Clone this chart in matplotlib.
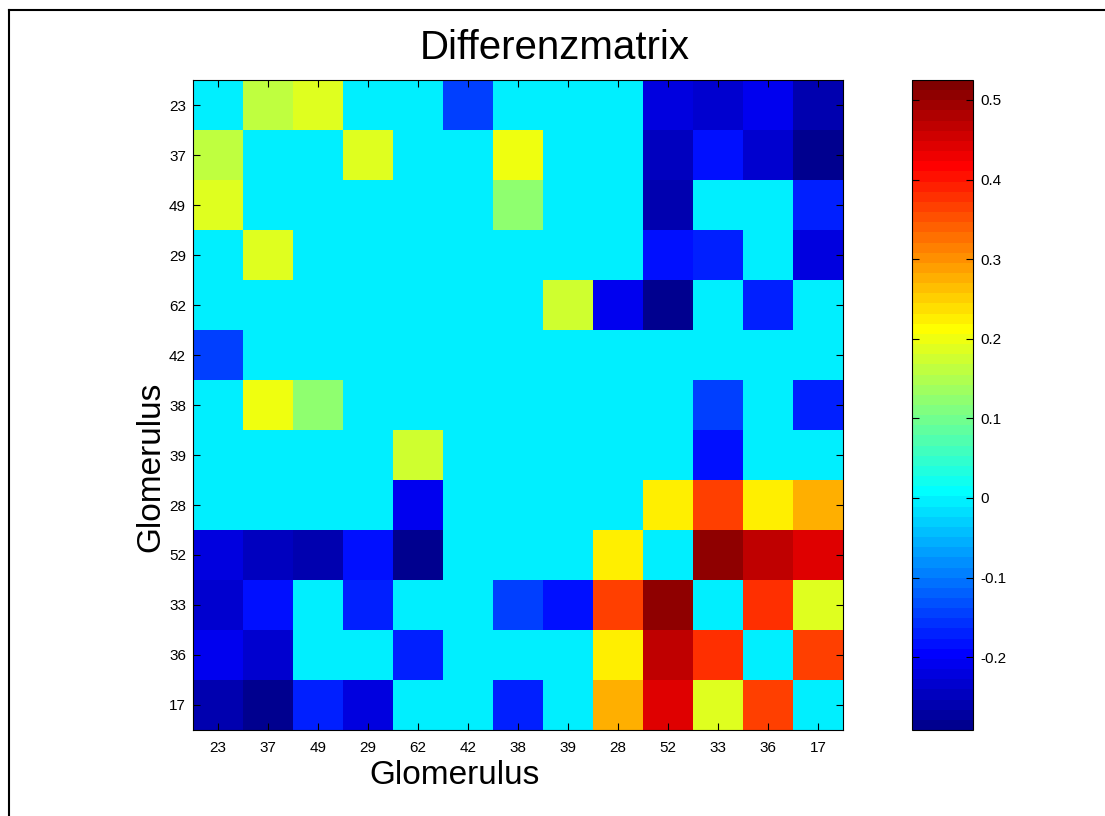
import numpy as np
import matplotlib
matplotlib.use("Agg")
import matplotlib.pyplot as plt
from matplotlib.lines import Line2D
from matplotlib.colors import ListedColormap

plt.rcParams['font.family'] = ['Liberation Sans', 'DejaVu Sans']

# glomerulus labels (same order on both axes)
labels = ["23", "37", "49", "29", "62", "42", "38", "39", "28", "52", "33", "36", "17"]

# difference matrix (rows top to bottom)
diff = np.array([
    [0.000, 0.162, 0.187, 0.000, 0.000, -0.144, 0.000, 0.000, 0.000, -0.221, -0.234, -0.208, -0.259],
    [0.162, 0.000, 0.000, 0.187, 0.000, 0.000, 0.200, 0.000, 0.000, -0.246, -0.183, -0.234, -0.285],
    [0.187, 0.000, 0.000, 0.000, 0.000, 0.000, 0.123, 0.000, 0.000, -0.259, 0.000, 0.000, -0.170],
    [0.000, 0.187, 0.000, 0.000, 0.000, 0.000, 0.000, 0.000, 0.000, -0.183, -0.170, 0.000, -0.221],
    [0.000, 0.000, 0.000, 0.000, 0.000, 0.000, 0.000, 0.174, -0.208, -0.285, 0.000, -0.170, 0.000],
    [-0.144, 0.000, 0.000, 0.000, 0.000, 0.000, 0.000, 0.000, 0.000, 0.000, 0.000, 0.000, 0.000],
    [0.000, 0.200, 0.123, 0.000, 0.000, 0.000, 0.000, 0.000, 0.000, 0.000, -0.144, 0.000, -0.170],
    [0.000, 0.000, 0.000, 0.000, 0.174, 0.000, 0.000, 0.000, 0.000, 0.000, -0.183, 0.000, 0.000],
    [0.000, 0.000, 0.000, 0.000, -0.208, 0.000, 0.000, 0.000, 0.000, 0.225, 0.366, 0.225, 0.276],
    [-0.221, -0.246, -0.259, -0.183, -0.285, 0.000, 0.000, 0.000, 0.225, 0.000, 0.506, 0.468, 0.442],
    [-0.234, -0.183, 0.000, -0.170, 0.000, 0.000, -0.144, -0.183, 0.366, 0.506, 0.000, 0.378, 0.187],
    [-0.208, -0.234, 0.000, 0.000, -0.170, 0.000, 0.000, 0.000, 0.225, 0.468, 0.378, 0.000, 0.366],
    [-0.259, -0.285, -0.170, -0.221, 0.000, 0.000, -0.170, 0.000, 0.276, 0.442, 0.187, 0.366, 0.000],
])

clim = (-0.2915, 0.525)
cbar_ticks = [-0.2, -0.1, 0, 0.1, 0.2, 0.3, 0.4, 0.5]
cbar_ticklabels = ["-0.2", "-0.1", "0", "0.1", "0.2", "0.3", "0.4", "0.5"]


def matlab_jet(m=64):
    # same construction as matlab's jet(m)
    n = int(np.ceil(m / 4))
    u = np.concatenate([np.arange(1, n + 1) / n, np.ones(n - 1), np.arange(n, 0, -1) / n])
    g = int(np.ceil(n / 2)) - (1 if m % 4 == 1 else 0) + np.arange(1, len(u) + 1)
    r = g + n
    b = g - n
    J = np.zeros((m, 3))
    for col, idx in enumerate([r, g, b]):
        keep = (idx >= 1) & (idx <= m)
        J[idx[keep] - 1, col] = u[keep]
    return ListedColormap(J)


W, H = 1105, 816
fig = plt.figure(figsize=(W / 100, H / 100), dpi=100)
fig.patch.set_facecolor("white")

# matlab-ish frame around the figure (left and top edge visible)
fig.add_artist(Line2D([9 / W, 9 / W], [0, 1 - 10 / H], color="black", lw=1.5, transform=fig.transFigure))
fig.add_artist(Line2D([9 / W, 1], [1 - 10 / H, 1 - 10 / H], color="black", lw=1.5, transform=fig.transFigure))

ax = fig.add_axes([193 / W, 86 / H, 650 / W, 650 / H])
im = ax.imshow(diff, cmap=matlab_jet(64), vmin=clim[0], vmax=clim[1], aspect="auto", interpolation="nearest")

n = len(labels)
ax.set_xticks(range(n))
ax.set_yticks(range(n))
ax.set_xticklabels(labels)
ax.set_yticklabels(labels)
ax.tick_params(direction="in", length=5, width=0.8, top=True, right=True, labelsize=11, pad=8)
ax.tick_params(axis="y", pad=5)
for s in ax.spines.values():
    s.set_linewidth(0.8)

cax = fig.add_axes([912 / W, 86 / H, 61 / W, 650 / H])
cb = fig.colorbar(im, cax=cax)
cb.set_ticks(cbar_ticks)
cb.set_ticklabels(cbar_ticklabels)
cax.tick_params(direction="in", length=5, width=0.8, left=True, right=True, labelsize=11, pad=5)
cb.outline.set_linewidth(0.8)

fig.text(555 / W, 1 - 48 / H, "Differenzmatrix", fontsize=29, ha="center", va="center")
fig.text(455 / W, 1 - 775 / H, "Glomerulus", fontsize=24, ha="center", va="center")
fig.text(151 / W, 1 - 467 / H, "Glomerulus", fontsize=24, ha="center", va="center", rotation=90)

fig.savefig("out.png", dpi=100)
